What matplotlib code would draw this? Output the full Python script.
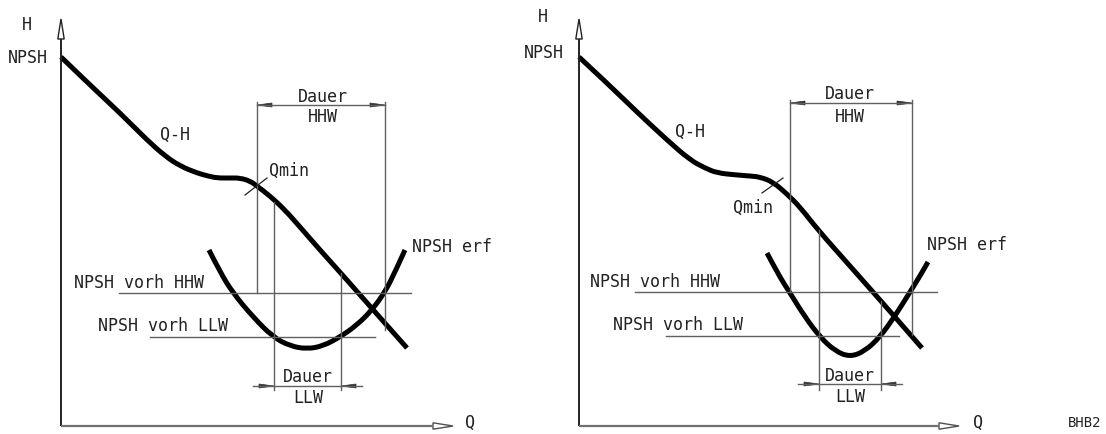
import matplotlib
matplotlib.use("Agg")
import matplotlib.pyplot as plt
from matplotlib.patches import Polygon, PathPatch
from matplotlib.path import Path

# ---- drawing coordinates (x to the right, y downward) ----
# Left panel curves
L_QH_X = [61, 90, 120, 147, 165, 180, 197, 208, 217, 230, 240, 250, 257, 270, 285, 300, 320, 347, 375, 407]
L_QH_Y = [57, 85, 113, 140, 156, 166, 173, 176, 178, 178, 178, 181, 186, 196, 210, 227, 250, 280, 312, 348]
L_NP_X = [209, 220, 233, 253, 273, 290, 307, 323, 340, 357, 372, 385, 395, 405]
L_NP_Y = [250, 272, 293, 317, 337, 346, 349, 346, 337, 325, 310, 292, 272, 250]
# Right panel curves
R_QH_X = [579, 608, 638, 667, 690, 705, 717, 737, 750, 760, 773, 787, 800, 818, 850, 895, 922]
R_QH_Y = [57, 84, 113, 140, 160, 168, 173, 175, 176, 177, 182, 194, 207, 230, 266, 317, 348]
R_NP_X = [767, 778, 790, 805, 820, 835, 850, 865, 880, 895, 910, 920, 928]
R_NP_Y = [253, 274, 293, 317, 337, 351, 357, 351, 337, 316, 292, 276, 262]

# axes (origin x, origin y, y-arrow tip, x-arrow tip)
AX_X0 = [61, 579]
AX_Y0 = [426, 426]
AX_YTIP = [19, 19]
AX_XTIP = [453, 959]

# NPSH available lines: y, x-start, x-end
HHW_Y = [293, 292]
HHW_X = [(119, 411), (635, 937)]
LLW_Y = [337, 336]
LLW_X = [(150, 375), (666, 899)]

# extension lines: (x, y_top, y_bottom)
EXT_LINES = [
    (257, 102, 293), (385, 102, 330), (274, 202, 390), (341, 273, 390),
    (790, 100, 292), (912, 100, 335), (819, 230, 390), (881, 301, 390),
]
# HHW dimension lines: y, x-left, x-right (arrows inside pointing out)
DIM_HHW = [(105, 257, 385), (103, 790, 912)]
# LLW dimension lines: y, line start, tip-left, tip-right, line end (arrows outside)
DIM_LLW = [(386, 253, 274, 341, 362), (384, 798, 819, 881, 902)]
# Qmin tick marks
QMIN_TICKS = [((245, 195), (267, 178)), ((762, 193), (783, 178))]

# texts: (x, y, string, ha)
TEXTS = [
    (27, 25, "H", "center"), (28, 58, "NPSH", "center"), (175, 135, "Q-H", "center"),
    (289, 171, "Qmin", "center"), (323, 97, "Dauer", "center"), (323, 117, "HHW", "center"),
    (412, 247, "NPSH erf", "left"), (74, 283, "NPSH vorh HHW", "left"),
    (98, 326, "NPSH vorh LLW", "left"), (308, 377, "Dauer", "center"),
    (308, 398, "LLW", "center"), (470, 423, "Q", "center"),
    (543, 17, "H", "center"), (544, 53, "NPSH", "center"), (690, 132, "Q-H", "center"),
    (753, 208, "Qmin", "center"), (850, 94, "Dauer", "center"), (850, 117, "HHW", "center"),
    (927, 245, "NPSH erf", "left"), (590, 282, "NPSH vorh HHW", "left"),
    (613, 325, "NPSH vorh LLW", "left"), (850, 376, "Dauer", "center"),
    (850, 397, "LLW", "center"), (978, 423, "Q", "center"),
]

W, H = 1106, 434
fig = plt.figure(figsize=(W / 100, H / 100), dpi=100)
ax = fig.add_axes([0, 0, 1, 1])
ax.set_xlim(0, W)
ax.set_ylim(H, 0)
ax.axis("off")

THICK = 3.6
THIN = 1.0
GRAY = "#606060"
DARK = "#222222"


def smooth_path(xs, ys):
    """Quadratic Bezier chain through the read points (matplotlib Path)."""
    pts = list(zip(xs, ys))
    verts = [pts[0]]
    codes = [Path.MOVETO]
    n = len(pts)
    for i in range(1, n - 1):
        ctrl = pts[i]
        if i < n - 2:
            end = ((pts[i][0] + pts[i + 1][0]) / 2, (pts[i][1] + pts[i + 1][1]) / 2)
        else:
            end = pts[n - 1]
        verts += [ctrl, end]
        codes += [Path.CURVE3, Path.CURVE3]
    return Path(verts, codes)


for xs, ys in [(L_QH_X, L_QH_Y), (L_NP_X, L_NP_Y), (R_QH_X, R_QH_Y), (R_NP_X, R_NP_Y)]:
    ax.add_patch(PathPatch(smooth_path(xs, ys), facecolor="none", edgecolor="black",
                           lw=THICK, capstyle="butt", joinstyle="round"))

AL, AW = 20, 3.2
for x0, y0, yt, xt in zip(AX_X0, AX_Y0, AX_YTIP, AX_XTIP):
    ax.plot([x0, x0], [y0, yt + AL], color=DARK, lw=1.4, solid_capstyle="butt")
    ax.plot([x0, xt - AL], [y0, y0], color="#707070", lw=1.6, solid_capstyle="butt")
    ax.add_patch(Polygon([(x0, yt), (x0 - AW, yt + AL), (x0 + AW, yt + AL)], closed=True,
                         facecolor="white", edgecolor=DARK, lw=1.0))
    ax.add_patch(Polygon([(xt, y0), (xt - AL, y0 - AW), (xt - AL, y0 + AW)], closed=True,
                         facecolor="white", edgecolor="#505050", lw=1.0))

for y, (xa, xb) in zip(HHW_Y, HHW_X):
    ax.plot([xa, xb], [y, y], color=GRAY, lw=THIN)
for y, (xa, xb) in zip(LLW_Y, LLW_X):
    ax.plot([xa, xb], [y, y], color=GRAY, lw=THIN)

for x, ya, yb in EXT_LINES:
    ax.plot([x, x], [ya, yb], color=GRAY, lw=THIN)

DL, DW = 15, 2.0


def arrowhead(tipx, y, direction):
    base = tipx - direction * DL
    ax.add_patch(Polygon([(tipx, y), (base, y - DW), (base, y + DW)], closed=True,
                         facecolor="#333333", edgecolor="#333333", lw=0.5))


for y, xa, xb in DIM_HHW:
    ax.plot([xa, xb], [y, y], color=GRAY, lw=THIN)
    arrowhead(xa, y, -1)
    arrowhead(xb, y, +1)

for y, xs, ta, tb, xe in DIM_LLW:
    ax.plot([xs, xe], [y, y], color=GRAY, lw=THIN)
    arrowhead(ta, y, +1)
    arrowhead(tb, y, -1)

for (p, q) in QMIN_TICKS:
    ax.plot([p[0], q[0]], [p[1], q[1]], color=DARK, lw=0.9)

for x, y, s, ha in TEXTS:
    ax.text(x, y, s, ha=ha, va="center", fontsize=12, family="DejaVu Sans Mono", color=DARK)
ax.text(1085, 423, "BHB2", ha="center", va="center", fontsize=10,
        family="DejaVu Sans Mono", color=DARK)

fig.savefig("out.png", dpi=100, facecolor="white")
